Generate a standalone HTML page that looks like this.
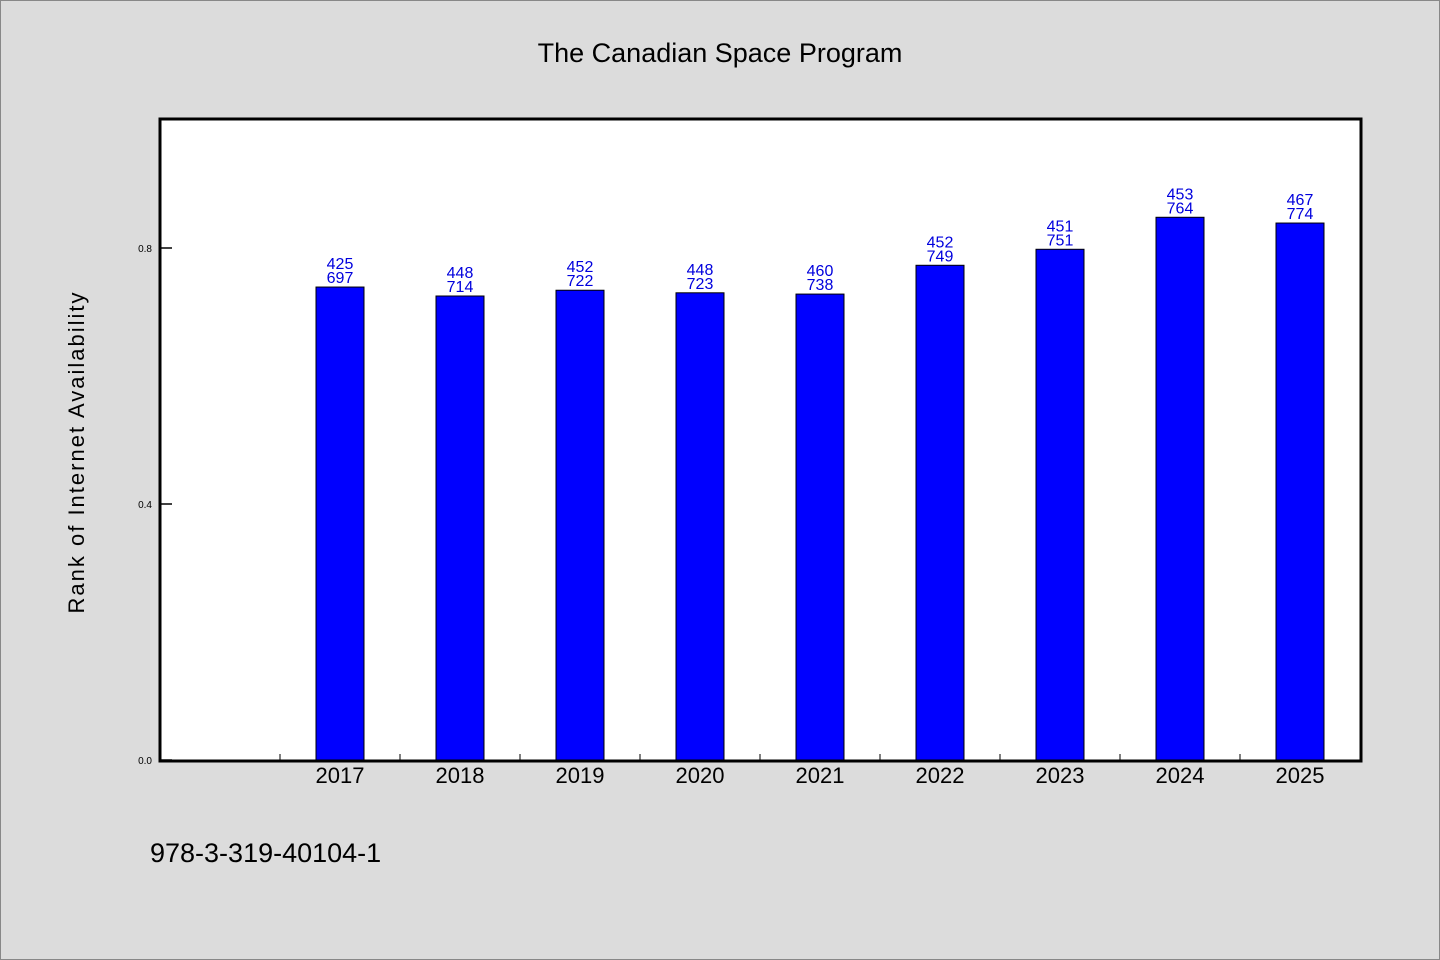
<!DOCTYPE html>
<html><head><meta charset="utf-8"><style>
html,body{margin:0;padding:0;background:#dcdcdc}
svg{display:block;font-family:"WenQuanYi Zen Hei","Liberation Sans",sans-serif}
</style></head><body>
<svg id="chart" width="1440" height="960" viewBox="0 0 1440 960">
<rect x="0.5" y="0.5" width="1439" height="959" fill="#dcdcdc" stroke="#888"/>
<text x="720" y="62" text-anchor="middle" font-size="27" fill="#000">The Canadian Space Program</text>
<rect x="160" y="119" width="1201" height="642" fill="#fff" stroke="#000" stroke-width="3"/>
<text transform="translate(84,452) rotate(-90)" text-anchor="middle" font-size="22" fill="#000" letter-spacing="2">Rank of Internet Availability</text>
<text x="150" y="862" font-size="27" fill="#000">978-3-319-40104-1</text>
<g id="marks"></g>
</svg>
<script>
const categories = ["2017","2018","2019","2020","2021","2022","2023","2024","2025"];
const values = [0.739,0.725,0.734,0.730,0.728,0.773,0.798,0.848,0.839];
const labelTop = ["425","448","452","448","460","452","451","453","467"];
const labelBottom = ["697","714","722","723","738","749","751","764","774"];
const yTicks = [0.0,0.4,0.8];
const yTickLabels = ["0.0","0.4","0.8"];

const NS="http://www.w3.org/2000/svg";
const g=document.getElementById('marks');
const x0=160, slot=120, y0=760, pxPerUnit=640;
const xc=i=>x0+slot*(i+1)+slot/2;
const y=v=>y0-v*pxPerUnit;
function mk(t,a){const e=document.createElementNS(NS,t);for(const k in a)e.setAttribute(k,a[k]);g.appendChild(e);return e;}
yTicks.forEach((v,i)=>{
  const l=mk('line',{x1:160,x2:172,y1:y(v),y2:y(v),stroke:'#000','stroke-width':1.5});
  
  
  const t=mk('text',{x:152,y:y(v)+4,'text-anchor':'end','font-size':10,fill:'#000'});
  t.textContent=yTickLabels[i];
  
  
});
for(let i=0;i<categories.length;i++){
  const tx=x0+slot*(i+1)+slot/2-slot/2;
  const tk=mk('line',{x1:tx,x2:tx,y1:760,y2:754,stroke:'#000','stroke-width':1});
  
  
}
categories.forEach((c,i)=>{
  const cx=xc(i), top=y(values[i]);
  const b=mk('rect',{x:cx-24,y:top,width:48,height:y0-top,fill:'#0000ff',stroke:'#000','stroke-width':1});
  
  
  const t1=mk('text',{x:cx,y:top-18,'text-anchor':'middle','font-size':16,fill:'#0000dd'});
  t1.textContent=labelTop[i];
  
  
  const t2=mk('text',{x:cx,y:top-4,'text-anchor':'middle','font-size':16,fill:'#0000dd'});
  t2.textContent=labelBottom[i];
  
  
  const xl=mk('text',{x:cx,y:783,'text-anchor':'middle','font-size':22,fill:'#000'});
  xl.textContent=c;
  
  
});
</script>
</body></html>
